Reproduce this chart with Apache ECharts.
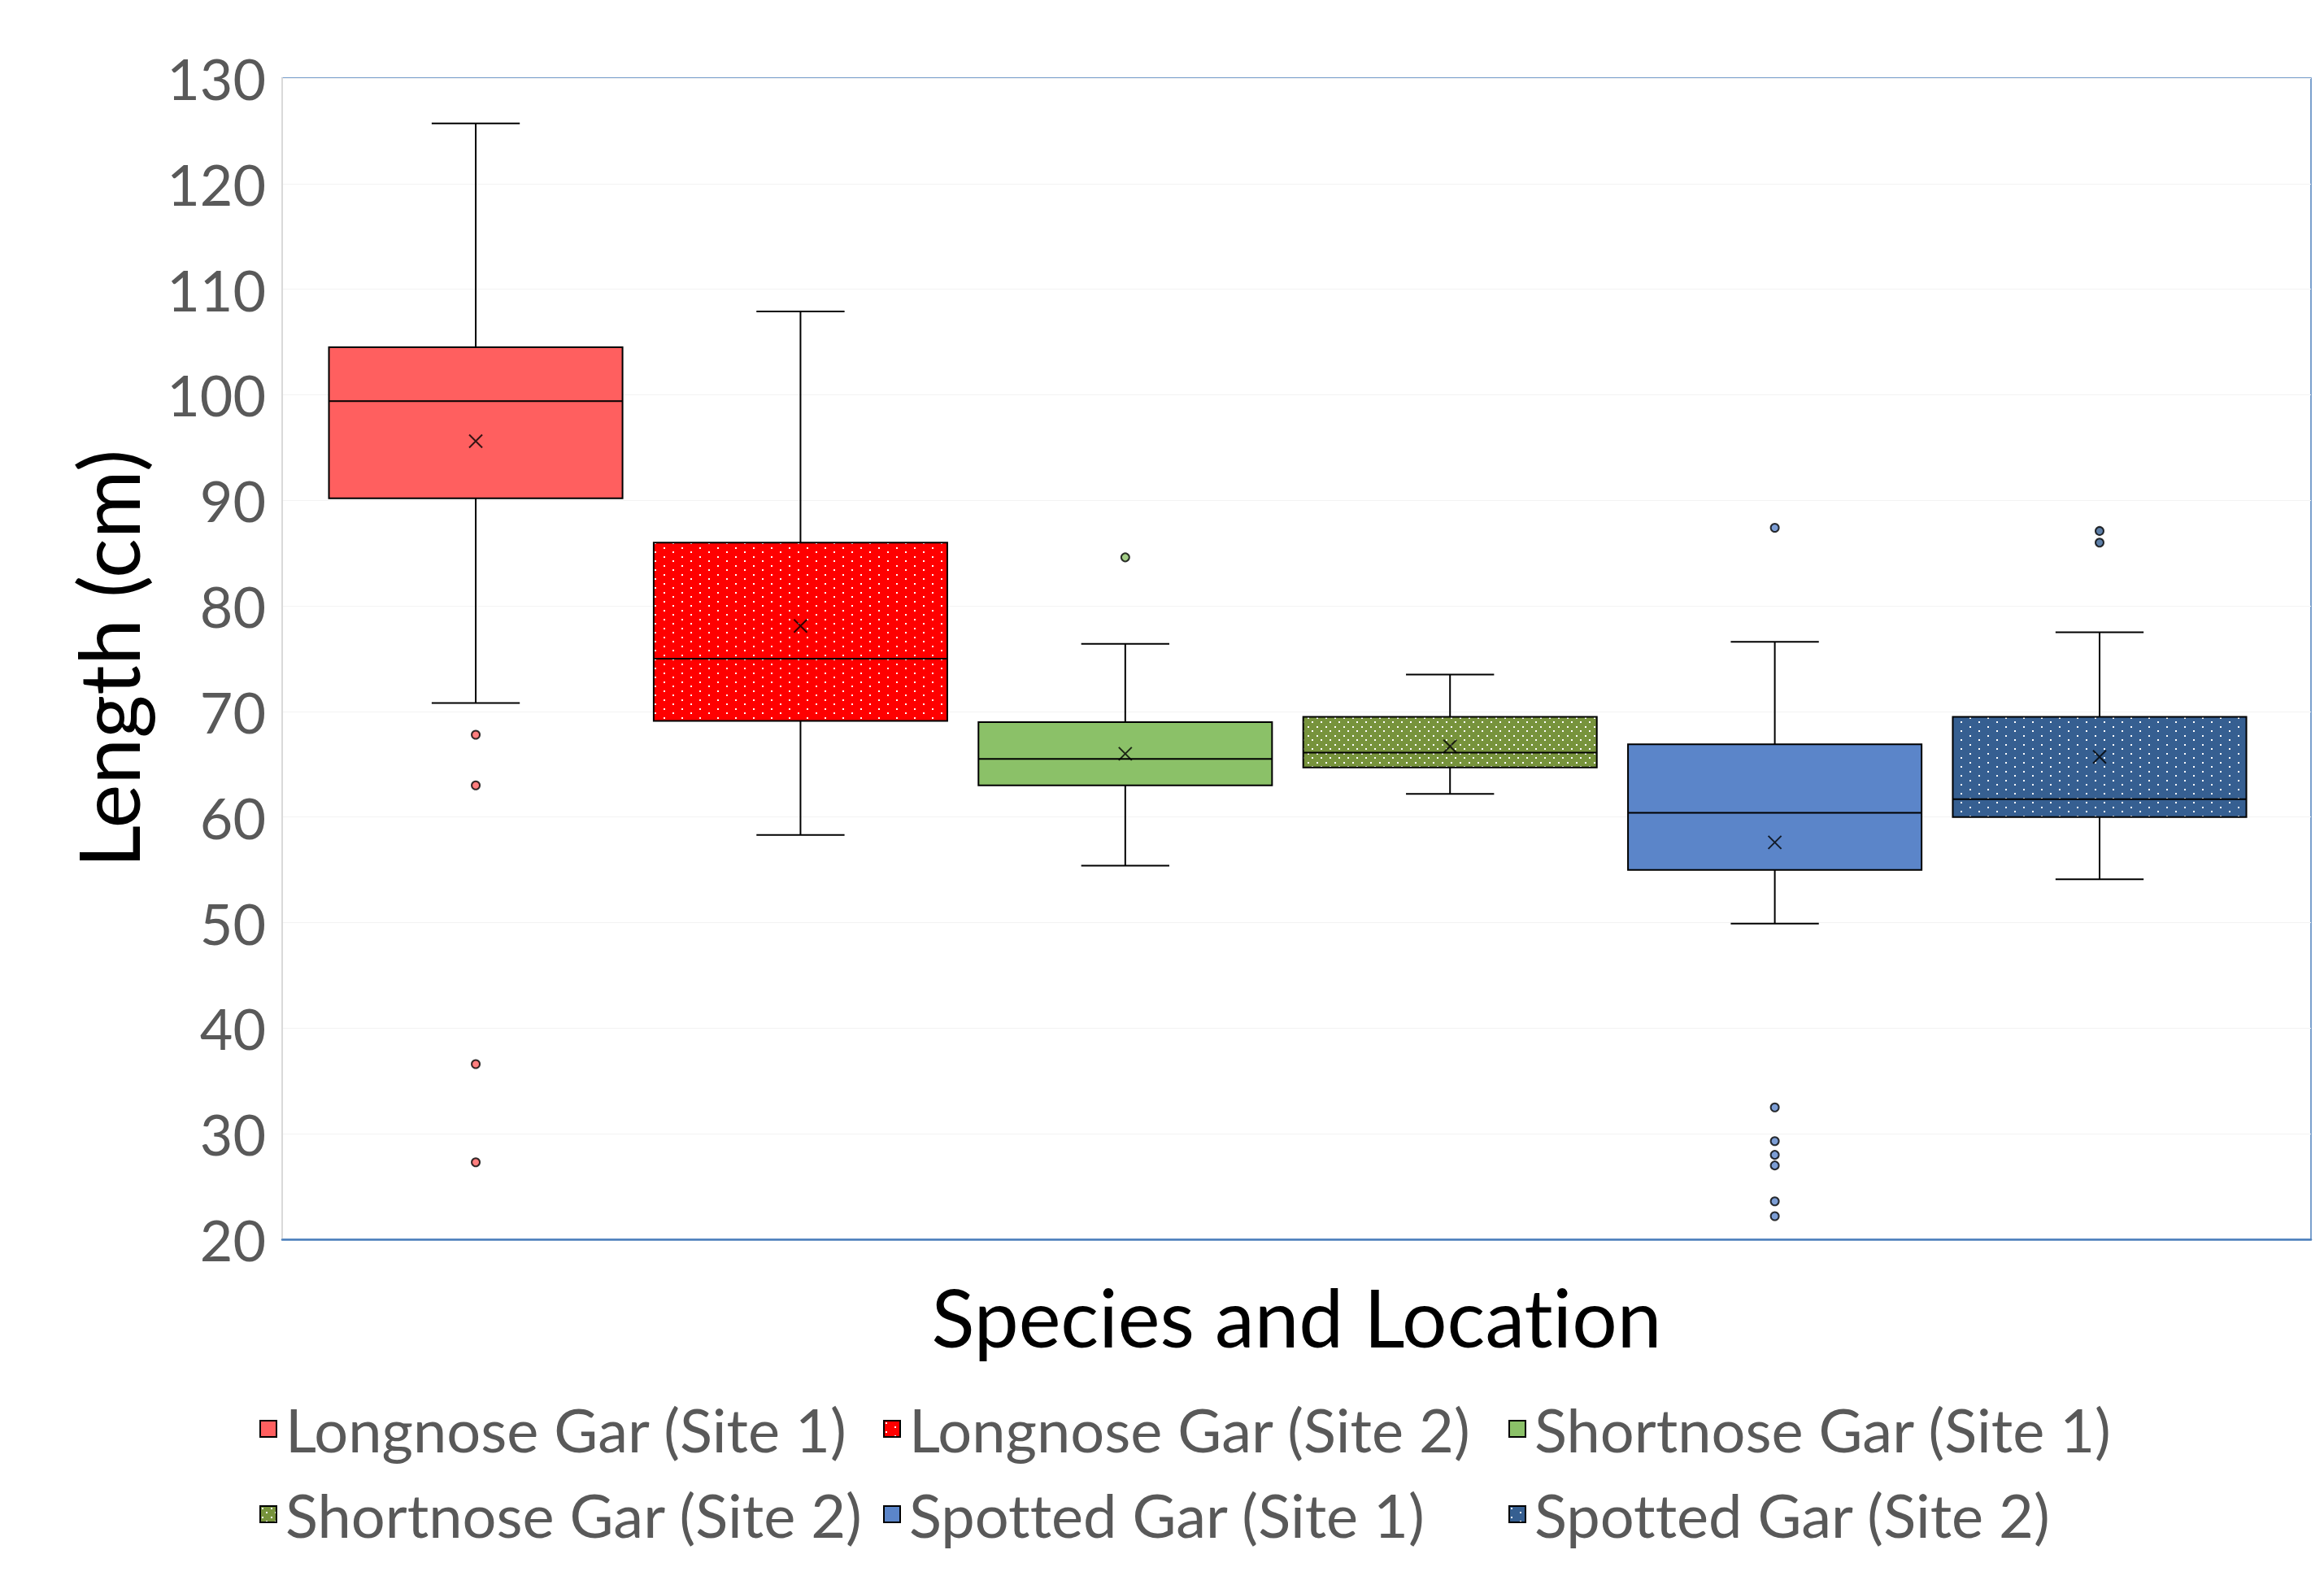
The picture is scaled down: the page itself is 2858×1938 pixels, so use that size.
<!DOCTYPE html>
<html>
<head>
<meta charset="utf-8">
<script src="https://cdn.jsdelivr.net/npm/echarts@6/dist/echarts.min.js"></script>
<style>
  html, body { margin: 0; padding: 0; background: #fff; }
  #chart { width: 2858px; height: 1938px; }
  #chart text { font-variant-ligatures: none; }
</style>
</head>
<body>
<div id="chart"></div>
<script>
// values (cm)
const categories = [
  'Longnose Gar (Site 1)', 'Longnose Gar (Site 2)',
  'Shortnose Gar (Site 1)', 'Shortnose Gar (Site 2)',
  'Spotted Gar (Site 1)', 'Spotted Gar (Site 2)',
]
const whiskerLow  = [70.8, 58.3, 55.4, 62.2, 49.9, 54.1]
const q1          = [90.2, 69.1, 63.0, 64.7, 55.0, 60.0]
const median      = [99.4, 75.0, 65.5, 66.1, 60.4, 61.7]
const q3          = [104.5, 86.0, 69.0, 69.5, 66.9, 69.5]
const whiskerHigh = [125.7, 107.9, 76.4, 73.5, 76.6, 77.5]
const means       = [95.6, 78.1, 66.0, 66.7, 57.6, 65.7]
const outliers = [
  [67.8, 63.0, 36.6, 27.3],
  [],
  [84.6],
  [],
  [87.4, 32.5, 29.3, 28.0, 27.0, 23.6, 22.2],
  [87.1, 86.0],
]
const yTicks = { min: 20, max: 130, step: 10 }

const COLORS   = ['#ff5f5f', '#ff0000', '#8bc168', '#77933c', '#5b85c9', '#365f91']
const PATTERNS = [null, 'sparse', null, 'dense', null, 'sparse']
const FONT = 'Lato'
const BOX_W = 0.904   // box width in x-axis units

// white dotted fill like the excel pattern fills
function makeFill(color, kind) {
  if (!kind) return color
  const c = document.createElement('canvas')
  c.width = 22; c.height = 22
  const g = c.getContext('2d')
  g.fillStyle = color
  g.fillRect(0, 0, 22, 22)
  g.fillStyle = '#fff'
  ;[0, 5, 11, 16].forEach((y, r) => {
    const xs = kind === 'sparse' ? [r % 2 ? 11 : 0] : (r % 2 ? [5, 16] : [0, 11])
    xs.forEach(x => g.fillRect(x + 2, y + 2, 2, 2))
  })
  return { image: c, repeat: 'repeat' }
}
const fills = COLORS.map((c, i) => makeFill(c, PATTERNS[i]))

const chart = echarts.init(document.getElementById('chart'), null, { renderer: 'svg' })

const line = (x1, y1, x2, y2) => ({
  type: 'line', shape: { x1, y1, x2, y2 },
  style: { stroke: '#000', lineWidth: 2 },
})

const boxSeries = categories.map((name, i) => ({
  name,
  type: 'custom',
  z: 2,
  itemStyle: { color: fills[i], borderColor: '#000', borderWidth: 2 },
  data: [[i, whiskerLow[i], q1[i], median[i], q3[i], whiskerHigh[i]]],
  renderItem(params, api) {
    const x = api.value(0)
    const p = k => api.coord([x, api.value(k)])
    const lo = p(1), b1 = p(2), md = p(3), b3 = p(4), hi = p(5)
    const w = api.size([BOX_W, 0])[0]
    const cx = lo[0]
    const cap = w * 0.15
    return {
      type: 'group',
      children: [
        line(cx, b1[1], cx, lo[1]),
        line(cx - cap, lo[1], cx + cap, lo[1]),
        line(cx, b3[1], cx, hi[1]),
        line(cx - cap, hi[1], cx + cap, hi[1]),
        {
          type: 'rect',
          shape: { x: cx - w / 2, y: b3[1], width: w, height: b1[1] - b3[1] },
          style: { fill: fills[i], stroke: '#000', lineWidth: 2 },
        },
        line(cx - w / 2, md[1], cx + w / 2, md[1]),
      ],
    }
  },
}))

const outlierData = outliers.flatMap((arr, i) =>
  arr.map(v => ({ value: [i, v], itemStyle: { color: COLORS[i] } })))

const legendCols = [[0, 3], [1, 4], [2, 5]]
const legendLeft = [314, 1081, 1850]

chart.setOption({
  animation: false,
  backgroundColor: '#fff',
  textStyle: { fontFamily: FONT },
  grid: {
    left: 347, top: 96, width: 2495, height: 1428,
    show: true, borderColor: '#4f81bd', borderWidth: 1.5,
  },
  xAxis: {
    type: 'value',
    min: -0.596, max: 5.651,
    name: 'Species and Location',
    nameLocation: 'middle',
    nameGap: 46,
    nameTextStyle: { fontSize: 98, color: '#000', fontFamily: FONT },
    axisLine: { show: true, onZero: false, lineStyle: { color: '#4f81bd', width: 2.5 } },
    axisTick: { show: false },
    axisLabel: { show: false },
    splitLine: { show: false },
  },
  yAxis: {
    type: 'value',
    min: yTicks.min, max: yTicks.max, interval: yTicks.step,
    name: 'Length (cm)',
    nameLocation: 'middle',
    nameGap: 164,
    nameTextStyle: { fontSize: 102, color: '#000', fontFamily: FONT },
    axisLine: { show: true, onZero: false, lineStyle: { color: '#d9d9d9', width: 2 } },
    axisTick: { show: false },
    axisLabel: { fontSize: 70, color: '#595959', margin: 20, fontFamily: FONT },
    splitLine: { lineStyle: { color: '#f3f3f3', width: 1 } },
  },
  legend: legendCols.map((idx, k) => ({
    orient: 'vertical',
    left: legendLeft[k],
    top: 1712,
    icon: 'rect',
    itemWidth: 20, itemHeight: 20,
    itemGap: 25,
    selectedMode: false,
    data: idx.map(i => categories[i]),
    textStyle: { fontSize: 74, color: '#595959', fontFamily: FONT, lineHeight: 80, padding: [0, 0, 0, 6] },
  })),
  series: [
    ...boxSeries,
    {
      name: 'Mean',
      type: 'scatter',
      z: 3,
      symbol: 'path://M0,0L10,10M10,0L0,10',
      symbolSize: 16,
      itemStyle: { color: 'none', borderColor: '#000', borderWidth: 2 },
      data: means.map((v, i) => [i, v]),
    },
    {
      name: 'Outliers',
      type: 'scatter',
      z: 3,
      symbol: 'circle',
      symbolSize: 10,
      itemStyle: { borderColor: '#000', borderWidth: 2 },
      data: outlierData,
    },
  ],
})
</script>
</body>
</html>
